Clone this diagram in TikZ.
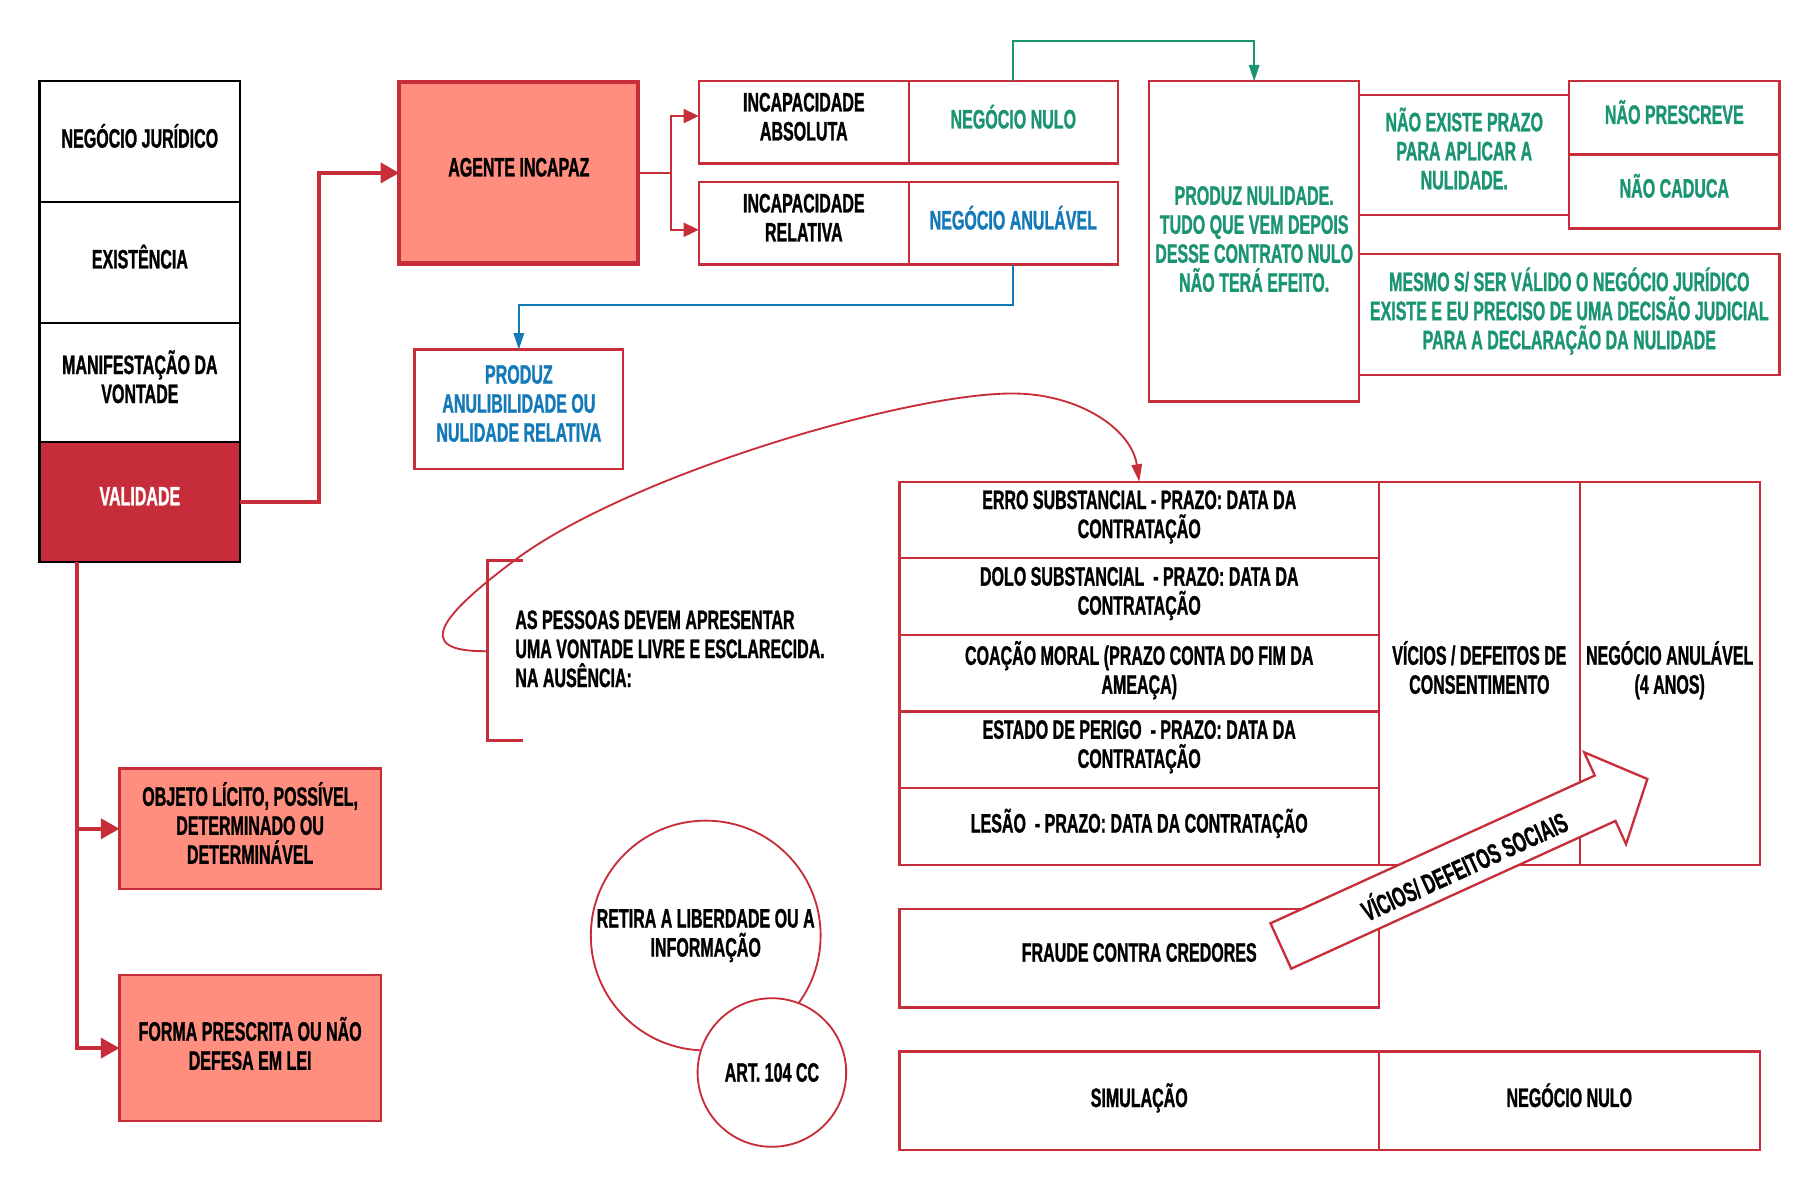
\documentclass[tikz,border=0pt]{standalone}
\usepackage{fontspec}
\setmainfont{Liberation Sans}[FakeStretch=0.6, FakeBold=1]
\usetikzlibrary{arrows.meta}
\definecolor{rd}{HTML}{C82E3A}
\definecolor{darkrd}{HTML}{C62C3A}
\definecolor{salmon}{HTML}{FF8E7F}
\definecolor{grn}{HTML}{1B9472}
\definecolor{blu}{HTML}{1479B8}
\begin{document}
\begin{tikzpicture}[x=1pt,y=-1pt,
  every node/.style={font=\bfseries\fontsize{23}{25}\selectfont, align=center, inner sep=0pt, outer sep=0pt},
  lift/.style={execute at end node={\rule[-10pt]{0pt}{10pt}}},
  blk/.style={draw=black, line width=2pt, lift},
  box/.style={draw=rd, line width=2pt, lift},
  fillbox/.style={draw=rd, line width=2pt, fill=salmon, lift},
  thickarr/.style={draw=rd, line width=3.5pt, -{Triangle[length=16pt,width=17pt]}},
  thickline/.style={draw=rd, line width=3.5pt},
  thinarr/.style={draw=rd, line width=2pt, -{Triangle[length=13pt,width=12pt]}},
  grnarr/.style={draw=grn, line width=1.6pt, -{Triangle[length=14pt,width=9pt]}},
  bluarr/.style={draw=blu, line width=1.6pt, -{Triangle[length=14pt,width=9pt]}},
  curvearr/.style={draw=rd, line width=1.6pt, -{Triangle[length=15pt,width=9pt]}},
  circ/.style={circle, draw=rd, line width=1.6pt, fill=white}
]
\useasboundingbox (0,0) rectangle (1568,1027);

% left column
\node[blk, minimum width=173pt, minimum height=104pt] (nj) at (120.5,122) {NEGÓCIO JURÍDICO};
\node[blk, minimum width=173pt, minimum height=104pt] (ex) at (120.5,226) {EXISTÊNCIA};
\node[blk, minimum width=173pt, minimum height=103pt] (mv) at (120.5,329.5) {MANIFESTAÇÃO DA\\VONTADE};
\node[blk, fill=darkrd, text=white, minimum width=173pt, minimum height=103pt] (va) at (120.5,432.5) {VALIDADE};

% agente incapaz
\node[draw=rd, line width=3.5pt, fill=salmon, lift, minimum width=206pt, minimum height=156pt] (ag) at (447,149) {AGENTE INCAPAZ};

% incapacidade
\node[box, minimum width=181pt, minimum height=71pt] (ia) at (692.5,105.5) {INCAPACIDADE\\ABSOLUTA};
\node[box, text=grn, minimum width=180pt, minimum height=71pt] (inn) at (873,105.5) {NEGÓCIO NULO};
\node[box, minimum width=181pt, minimum height=71pt] (ir) at (692.5,192.5) {INCAPACIDADE\\RELATIVA};
\node[box, text=blu, minimum width=180pt, minimum height=71pt] (ina) at (873,192.5) {NEGÓCIO ANULÁVEL};

% produz anulibilidade
\node[box, text=blu, minimum width=180pt, minimum height=103pt] (pa) at (447,352.5) {PRODUZ\\ANULIBILIDADE OU\\NULIDADE RELATIVA};

% nulidade group
\node[box, minimum width=181pt, minimum height=276pt] (pn) at (1080.5,208) {};
\node[text=grn] (pnt) at (1080.5,206) {PRODUZ NULIDADE.\\TUDO QUE VEM DEPOIS\\DESSE CONTRATO NULO\\NÃO TERÁ EFEITO.};
\node[box, minimum width=181pt, minimum height=103pt] (np) at (1261.5,133.5) {};
\node[text=grn] (npt) at (1261.5,128) {NÃO EXISTE PRAZO\\PARA APLICAR A\\NULIDADE.};
\node[box, text=grn, minimum width=181pt, minimum height=63pt] (npr) at (1442.5,101.5) {NÃO PRESCREVE};
\node[box, text=grn, minimum width=181pt, minimum height=64pt] (nca) at (1442.5,165) {NÃO CADUCA};
\node[box, minimum width=362pt, minimum height=104pt] (ms) at (1352,271) {};
\node[text=grn] (mst) at (1352,268) {MESMO S/ SER VÁLIDO O NEGÓCIO JURÍDICO\\EXISTE E EU PRECISO DE UMA DECISÃO JUDICIAL\\PARA A DECLARAÇÃO DA NULIDADE};

% table
\node[box, minimum width=413pt, minimum height=66pt] (er) at (981.5,448) {ERRO SUBSTANCIAL - PRAZO: DATA DA\\CONTRATAÇÃO};
\node[box, minimum width=413pt, minimum height=66pt] (do) at (981.5,514) {DOLO SUBSTANCIAL\ \ - PRAZO: DATA DA\\CONTRATAÇÃO};
\node[box, minimum width=413pt, minimum height=66pt] (co) at (981.5,580) {COAÇÃO MORAL (PRAZO CONTA DO FIM DA\\AMEAÇA)};
\node[box, minimum width=413pt, minimum height=66pt] (es) at (981.5,646) {ESTADO DE PERIGO\ \ - PRAZO: DATA DA\\CONTRATAÇÃO};
\node[box, minimum width=413pt, minimum height=66pt] (le) at (981.5,712) {LESÃO\ \ - PRAZO: DATA DA CONTRATAÇÃO};
\node[box, minimum width=173pt, minimum height=330pt] (vc) at (1274.5,580) {VÍCIOS / DEFEITOS DE\\CONSENTIMENTO};
\node[box, minimum width=155pt, minimum height=330pt] (na4) at (1438.5,580) {NEGÓCIO ANULÁVEL\\(4 ANOS)};

% fraude / simulacao
\node[box, minimum width=413pt, minimum height=85pt] (fr) at (981.5,825.5) {FRAUDE CONTRA CREDORES};
\node[box, minimum width=413pt, minimum height=85pt] (si) at (981.5,948.5) {SIMULAÇÃO};
\node[box, minimum width=328pt, minimum height=85pt] (snn) at (1352,948.5) {NEGÓCIO NULO};

% big arrow (vicios sociais)
\begin{scope}[shift={(1103.5,815)}, rotate=24.5]
\draw[rd, line width=2pt, fill=white, line join=miter]
  (0,-21.5) -- (307,-21.5) -- (307,-43.5) -- (347,0) -- (307,43.5) -- (307,21.5) -- (0,21.5) -- cycle;
\end{scope}
\node[rotate=24.5, font=\bfseries\fontsize{24}{26}\selectfont] (soc) at (1261,745) {VÍCIOS/ DEFEITOS SOCIAIS};

% circles
\node[circ, minimum size=198pt] (rl) at (608,806) {};
\node (rlt) at (608,806) {RETIRA A LIBERDADE OU A\\INFORMAÇÃO};
\node[circ, minimum size=128pt] (art) at (665,924) {ART. 104 CC};

% salmon boxes
\node[fillbox, minimum width=225pt, minimum height=104pt] (ob) at (215.5,714) {OBJETO LÍCITO, POSSÍVEL,\\DETERMINADO OU\\DETERMINÁVEL};
\node[fillbox, minimum width=225pt, minimum height=126pt] (fo) at (215.5,903) {};
\node (fot) at (215.5,899) {FORMA PRESCRITA OU NÃO\\DEFESA EM LEI};

% bracket and text
\draw[rd, line width=2pt] (451,483) -- (420,483) -- (420,638) -- (451,638);
\coordinate (brk) at (420,561);
\node[anchor=west, align=left] (aspt) at (444,559) {AS PESSOAS DEVEM APRESENTAR\\UMA VONTADE LIVRE E ESCLARECIDA.\\NA AUSÊNCIA:};

% connectors
\draw[thickarr] (va.east) -- (275,432.5) |- (ag.west);
\draw[draw=rd, line width=2pt] (ag.east) -- (578,149) coordinate (br);
\draw[thinarr] (br) |- ([yshift=5.5pt]ia.west);
\draw[thinarr] (br) |- ([yshift=-5.5pt]ir.west);
\draw[grnarr] (inn.north) -- (873,35) -| (pn.north);
\draw[bluarr] (ina.south) -- (873,263) -| (pa.north);
\draw[thickline] ([xshift=-54.5pt]va.south) coordinate (vb) -- (66,902);
\draw[thickarr] (vb) |- (ob.west);
\draw[thickarr] (vb) |- (fo.west);
\draw[curvearr] (brk) .. controls (352,562) and (383,528) .. (443,483)
  .. controls (540,410) and (780,339) .. (872,339)
  .. controls (930,339) and (975,370) .. (er.north);
\end{tikzpicture}
\end{document}
